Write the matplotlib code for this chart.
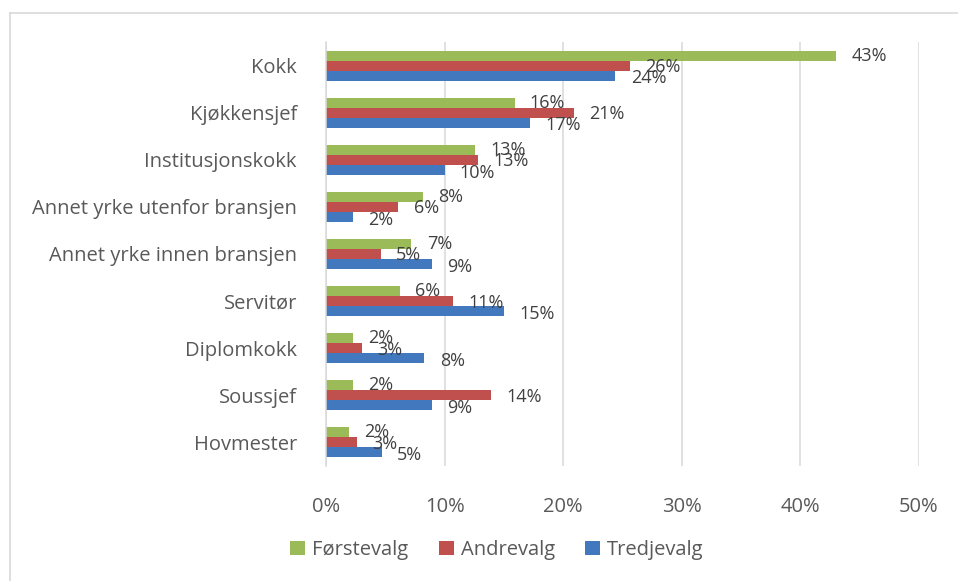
import matplotlib
matplotlib.use("Agg")
import matplotlib.pyplot as plt
from matplotlib.patches import Patch
from matplotlib.lines import Line2D
import numpy as np

plt.rcParams['font.family'] = ['Open Sans', 'DejaVu Sans']

# Data (share of respondents)
categories = ["Kokk", "Kjøkkensjef", "Institusjonskokk", "Annet yrke utenfor bransjen",
              "Annet yrke innen bransjen", "Servitør", "Diplomkokk", "Soussjef", "Hovmester"]
forstevalg = [43.0, 15.9, 12.6, 8.2, 7.2, 6.2, 2.3, 2.3, 1.9]
andrevalg = [25.6, 20.9, 12.8, 6.1, 4.6, 10.7, 3.0, 13.9, 2.6]
tredjevalg = [24.4, 17.2, 10.0, 2.3, 8.9, 15.0, 8.3, 8.9, 4.7]
series_names = ["Førstevalg", "Andrevalg", "Tredjevalg"]
xticks = [0, 10, 20, 30, 40, 50]

colors = ["#9BBB59", "#C0504D", "#4178BE"]
text_gray = "#595959"
label_gray = "#404040"
grid_gray = "#D9D9D9"

fig = plt.figure(figsize=(9.58, 5.81), dpi=100)
ax = fig.add_axes([326 / 958, 1 - 466 / 581, (919 - 326) / 958, (466 - 42) / 581])

y = np.arange(len(categories))
bar_h = 0.213
all_series = [forstevalg, andrevalg, tredjevalg]
y_shift = [0, -1, -2]  # label drop in points, blue labels sit a bit lower

for i, (vals, col) in enumerate(zip(all_series, colors)):
    pos = y + (i - 1) * bar_h
    ax.barh(pos, vals, height=bar_h, color=col, edgecolor="none")
    for v, p in zip(vals, pos):
        ax.annotate(f"{round(v):.0f}%", xy=(v, p), xytext=(11, y_shift[i]),
                    textcoords="offset points", va="center", ha="left",
                    fontsize=13, color=label_gray)

ax.set_xlim(0, 50)
ax.set_ylim(len(categories) - 0.5, -0.5)
ax.set_xticks(xticks)
ax.set_xticklabels([f"{t}%" for t in xticks])
ax.set_yticks(y)
ax.set_yticklabels(categories)

ax.tick_params(axis="x", length=0, pad=22, labelsize=14.5, labelcolor=text_gray)
ax.tick_params(axis="y", length=0, pad=21, labelsize=14.5, labelcolor=text_gray)

ax.grid(axis="x", color=grid_gray, linewidth=1.1)
ax.set_axisbelow(True)
for side in ["top", "right", "bottom"]:
    ax.spines[side].set_visible(False)
ax.spines["left"].set_color(grid_gray)
ax.spines["left"].set_linewidth(1.1)

handles = [Patch(facecolor=c, edgecolor="none") for c in colors]
fig.legend(handles, series_names, loc="center", bbox_to_anchor=(497 / 958, 1 - 550 / 581),
           ncol=3, frameon=False, fontsize=14.5, labelcolor=text_gray,
           handlelength=0.75, handleheight=0.75, handletextpad=0.35, columnspacing=1.5)

# chart area border (only top and left edges show in the crop)
fig.add_artist(Line2D([10 / 958, 1], [1 - 13 / 581, 1 - 13 / 581], color=grid_gray, lw=1.2))
fig.add_artist(Line2D([10 / 958, 10 / 958], [1 - 13 / 581, 0], color=grid_gray, lw=1.2))

fig.savefig("out.png", dpi=100)
